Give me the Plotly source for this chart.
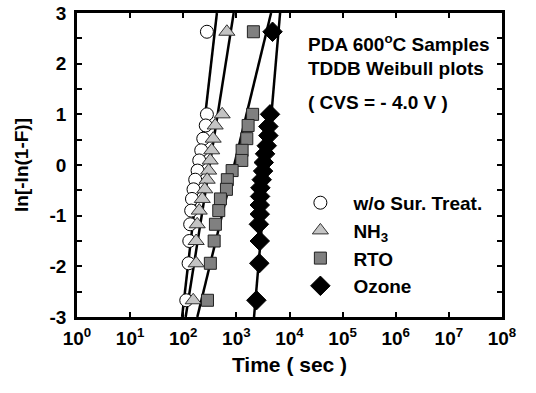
import plotly.graph_objects as go

# Weibull plotting positions, ln[-ln(1-F)]
y_common = [2.63, 1.0, 0.78, 0.52, 0.29, 0.09, -0.11, -0.29, -0.48, -0.67, -0.90, -1.17, -1.50, -1.94, -2.67]
y_ozone = [2.63, 1.0, 0.76, 0.58, 0.38, 0.22, 0.05, -0.12, -0.29, -0.45, -0.62, -0.79, -0.97, -1.17, -1.50, -1.94, -2.67]

# Time to breakdown (sec)
t_wo = [279, 279, 265, 238, 218, 200, 186, 168, 156, 146, 141, 135, 130, 126, 114]
t_nh3 = [662, 540, 399, 366, 343, 321, 301, 282, 254, 228, 200, 183, 175, 175, 154]
t_rto = [2090, 2020, 1663, 1571, 1282, 1265, 832, 676, 650, 501, 466, 403, 382, 324, 286]
t_ozone = [4795, 4300, 4000, 4000, 3730, 3470, 3280, 3180, 3000, 2830, 2790, 2755, 2755, 2650, 2755, 2700, 2380]

# Fitted Weibull lines: times at ln[-ln(1-F)] = -3 and +3
fit_y = [-3, 3]
fit_wo = [95, 430]
fit_nh3 = [111, 890]
fit_rto = [184, 4500]
fit_ozone = [2150, 6650]

names = ["w/o Sur. Treat.", "NH<sub>3</sub>", "RTO", "Ozone"]

FONT = "Liberation Sans, Arial, sans-serif"

fig = go.Figure()

for fx in [fit_wo, fit_nh3, fit_rto, fit_ozone]:
    fig.add_trace(go.Scatter(x=fx, y=fit_y, mode="lines", line=dict(color="black", width=2.5),
                             showlegend=False, hoverinfo="skip"))

styles = [
    dict(symbol="circle", size=13, color="white", line=dict(color="black", width=1)),
    dict(symbol="triangle-up", size=14, color="#c4c4c4", line=dict(color="#333333", width=1)),
    dict(symbol="square", size=12, color="#808080", line=dict(color="#222222", width=1)),
    dict(symbol="diamond", size=15, color="black", line=dict(color="black", width=1)),
]
series = [(t_wo, y_common), (t_nh3, y_common), (t_rto, y_common), (t_ozone, y_ozone)]
for (tx, ty), st, nm in zip(series, styles, names):
    fig.add_trace(go.Scatter(x=tx, y=ty, mode="markers", marker=st, name=nm, cliponaxis=False))

x_tickvals = [10 ** k for k in range(9)]
x_ticktext = [f"10<sup>{k}</sup>" for k in range(9)]

axis_common = dict(showline=True, linecolor="black", linewidth=2.5, mirror="allticks",
                   ticks="inside", ticklen=5, tickwidth=2, tickcolor="black",
                   showgrid=False, zeroline=False, automargin=False)

fig.update_layout(
    width=536, height=393,
    margin=dict(l=77, r=34, t=13, b=76),
    paper_bgcolor="white", plot_bgcolor="white",
    font=dict(family=FONT, color="black"),
    xaxis=dict(type="log", range=[0, 8], tickvals=x_tickvals, ticktext=x_ticktext,
               tickfont=dict(size=19, family=FONT, weight="bold"), ticklabelstandoff=2,
               title=dict(text="<b>Time ( sec )</b>", font=dict(size=21, family=FONT), standoff=10),
               **axis_common),
    yaxis=dict(range=[-3, 3], tickvals=[-3, -2, -1, 0, 1, 2, 3],
               ticktext=["-3", "-2", "-1", "0", "1", "2", "3"],
               tickfont=dict(size=19, family=FONT, weight="bold"), ticklabelstandoff=4,
               minor=dict(tickvals=[-2.5, -1.5, -0.5, 0.5, 1.5, 2.5], ticks="inside", ticklen=5,
                          tickwidth=2, tickcolor="black"),
               title=dict(text="<b>ln[-ln(1-F)]</b>", font=dict(size=19, family=FONT), standoff=16),
               **axis_common),
    legend=dict(x=0.495, y=0.438, xanchor="left", yanchor="top", bgcolor="rgba(0,0,0,0)",
                font=dict(size=19, family=FONT, weight="bold"), itemwidth=56,
                tracegroupgap=0),
    showlegend=True,
)

fig.add_annotation(xref="paper", yref="paper", x=0.538, y=0.90, xanchor="left", yanchor="middle",
                   text="<b>PDA 600<sup>o</sup>C Samples</b>", showarrow=False,
                   font=dict(size=19, family=FONT))
fig.add_annotation(xref="paper", yref="paper", x=0.538, y=0.818, xanchor="left", yanchor="middle",
                   text="<b>TDDB Weibull plots</b>", showarrow=False,
                   font=dict(size=19, family=FONT))
fig.add_annotation(xref="paper", yref="paper", x=0.538, y=0.704, xanchor="left", yanchor="middle",
                   text="<b>( CVS = - 4.0 V )</b>", showarrow=False,
                   font=dict(size=19, family=FONT))

fig.write_html("out.html", config={"displayModeBar": False},
               post_script="document.body.style.margin='0px';")
